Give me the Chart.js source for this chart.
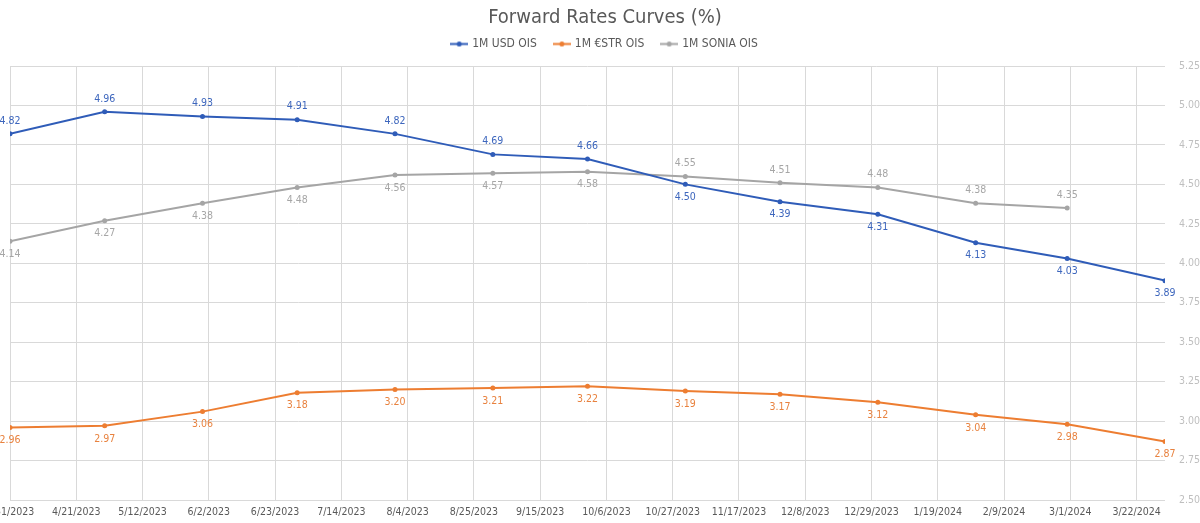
<!DOCTYPE html>
<html>
<head>
<meta charset="utf-8">
<script src="https://cdn.jsdelivr.net/npm/chart.js@4/dist/chart.umd.min.js"></script>
<style>
  body { margin: 0; background: #fff; }
</style>
</head>
<body>
<canvas id="myChart" width="1200" height="523"></canvas>
<script>
// month-end observation dates
const dates = ['2023-03-31', '2023-04-30', '2023-05-31', '2023-06-30', '2023-07-31', '2023-08-31',
  '2023-09-30', '2023-10-31', '2023-11-30', '2023-12-31', '2024-01-31', '2024-02-29', '2024-03-31']
const usdOis = [4.82, 4.96, 4.93, 4.91, 4.82, 4.69, 4.66, 4.50, 4.39, 4.31, 4.13, 4.03, 3.89]
const estrOis = [2.96, 2.97, 3.06, 3.18, 3.20, 3.21, 3.22, 3.19, 3.17, 3.12, 3.04, 2.98, 2.87]
const soniaOis = [4.14, 4.27, 4.38, 4.48, 4.56, 4.57, 4.58, 4.55, 4.51, 4.48, 4.38, 4.35]
const seriesNames = ['1M USD OIS', '1M €STR OIS', '1M SONIA OIS']
const yMin = 2.5, yMax = 5.25, yStep = 0.25
const tickEveryDays = 21

const fontFamily = "'Liberation Sans Narrow', 'DejaVu Sans Condensed', Roboto, sans-serif"
const DAY = 86400000
const start = Date.parse(dates[0])
const dayOf = s => Math.round((Date.parse(s) - start) / DAY)
const lastDay = dayOf(dates[dates.length - 1])

function fmtDate(days) {
  const d = new Date(start + days * DAY)
  return (d.getUTCMonth() + 1) + '/' + d.getUTCDate() + '/' + d.getUTCFullYear()
}

function toPoints(values) {
  return values.map((v, i) => ({ x: dayOf(dates[i]), y: v }))
}

// little line+dot marker for the legend
function legendMark(color) {
  const c = document.createElement('canvas')
  c.width = 18
  c.height = 7
  const g = c.getContext('2d')
  g.strokeStyle = color
  g.lineWidth = 2
  g.beginPath()
  g.moveTo(0, 3.5)
  g.lineTo(18, 3.5)
  g.stroke()
  g.fillStyle = color
  g.beginPath()
  g.arc(9, 3.5, 2.5, 0, Math.PI * 2)
  g.fill()
  return c
}

const colors = ['#2f5cb8', '#ed7d31', '#a5a5a5']
const labelColors = ['#3d66bd', '#e8823f', '#a6a6a6']

// value labels: above/below depending on series
const valueLabels = {
  id: 'valueLabels',
  afterDatasetsDraw(chart) {
    const ctx = chart.ctx
    ctx.save()
    ctx.font = '10.5px ' + fontFamily
    ctx.textAlign = 'center'
    ctx.textBaseline = 'middle'
    chart.data.datasets.forEach((ds, di) => {
      const meta = chart.getDatasetMeta(di)
      meta.data.forEach((pt, i) => {
        const above = ds.labelAbove(i)
        ctx.fillStyle = ds.labelColor
        ctx.fillText(ds.data[i].y.toFixed(2), pt.x, pt.y + (above ? -13 : 13))
      })
    })
    ctx.restore()
  }
}

// push the plot down a bit under the legend
const legendGap = {
  id: 'legendGap',
  beforeInit(chart) {
    const fit = chart.legend.fit
    chart.legend.fit = function () {
      fit.call(this)
      this.height += 6
    }
  }
}

const config = {
  type: 'line',
  data: {
    datasets: [{
      label: seriesNames[0],
      data: toPoints(usdOis),
      borderColor: colors[0],
      backgroundColor: colors[0],
      labelColor: labelColors[0],
      labelAbove: i => i < 7,
      mark: legendMark(colors[0])
    }, {
      label: seriesNames[1],
      data: toPoints(estrOis),
      borderColor: colors[1],
      backgroundColor: colors[1],
      labelColor: labelColors[1],
      labelAbove: i => false,
      mark: legendMark(colors[1])
    }, {
      label: seriesNames[2],
      data: toPoints(soniaOis),
      borderColor: colors[2],
      backgroundColor: colors[2],
      labelColor: labelColors[2],
      labelAbove: i => i >= 7,
      mark: legendMark(colors[2])
    }]
  },
  options: {
    responsive: false,
    devicePixelRatio: 1,
    animation: false,
    layout: { padding: { left: 10, right: 0, top: 0, bottom: 0 } },
    elements: {
      line: { borderWidth: 2, tension: 0 },
      point: { pointStyle: 'circle', radius: 2.5, hoverRadius: 2.5, borderWidth: 0 }
    },
    plugins: {
      title: {
        display: true,
        text: 'Forward Rates Curves (%)',
        color: '#595959',
        font: { family: fontFamily, size: 20, weight: 'normal' },
        padding: { top: 6, bottom: -10 }
      },
      legend: {
        position: 'top',
        labels: {
          color: '#595959',
          font: { family: fontFamily, size: 12 },
          usePointStyle: true,
          pointStyleWidth: 14,
          boxHeight: 7,
          padding: 18,
          generateLabels(chart) {
            return chart.data.datasets.map((ds, i) => ({
              text: ds.label,
              fontColor: '#595959',
              pointStyle: ds.mark,
              datasetIndex: i,
              lineWidth: 0,
              strokeStyle: 'transparent',
              fillStyle: ds.borderColor
            }))
          }
        }
      },
      tooltip: { enabled: false }
    },
    scales: {
      x: {
        type: 'linear',
        min: 0,
        max: lastDay,
        border: { display: false },
        grid: { color: '#d9d9d9', drawTicks: false },
        ticks: {
          autoSkip: false,
          maxRotation: 0,
          padding: 6,
          color: '#595959',
          font: { family: fontFamily, size: 10.5 },
          callback: v => fmtDate(v)
        },
        afterBuildTicks(scale) {
          const ticks = []
          for (let v = 0; v <= lastDay; v += tickEveryDays) ticks.push({ value: v })
          scale.ticks = ticks
        },
        afterFit(scale) {
          scale.paddingLeft = 0
          scale.paddingRight = 0
          scale.height = 23
        }
      },
      y: {
        position: 'right',
        min: yMin,
        max: yMax,
        border: { display: false },
        grid: { color: '#d9d9d9', drawTicks: false },
        ticks: {
          stepSize: yStep,
          padding: 14,
          color: '#bfbfbf',
          font: { family: fontFamily, size: 10.5 },
          callback: v => v.toFixed(2)
        },
        afterFit(scale) {
          scale.width = 35
        }
      }
    }
  },
  plugins: [valueLabels, legendGap]
}

const myChart = new Chart(document.getElementById('myChart'), config)
</script>
</body>
</html>
